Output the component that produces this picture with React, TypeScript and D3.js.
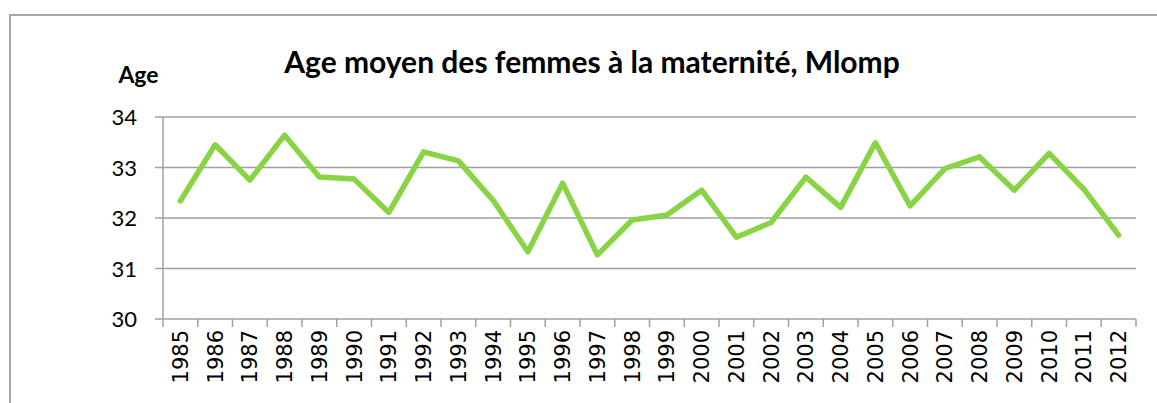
import React from "react";
import * as d3 from "d3";

const years = [
  "1985","1986","1987","1988","1989","1990","1991","1992","1993","1994",
  "1995","1996","1997","1998","1999","2000","2001","2002","2003","2004",
  "2005","2006","2007","2008","2009","2010","2011","2012",
];
const ages = [
  32.34, 33.45, 32.75, 33.64, 32.81, 32.77, 32.11, 33.31, 33.13, 32.35,
  31.33, 32.69, 31.27, 31.96, 32.06, 32.55, 31.62, 31.91, 32.81, 32.21,
  33.49, 32.24, 32.98, 33.21, 32.55, 33.28, 32.57, 31.66,
];
const yTicks = [30, 31, 32, 33, 34];
const title = "Age moyen des femmes à la maternité, Mlomp";
const yLabel = "Age";

const W = 1157;
const H = 403;
const left = 163;
const right = 1136;
const top = 117;
const bottom = 319;

export default function App() {
  const x = d3.scaleBand<string>().domain(years).range([left, right]).padding(0);
  const y = d3.scaleLinear().domain([30, 34]).range([bottom, top]);
  const line = d3
    .line<number>()
    .x((_, i) => (x(years[i]) as number) + x.bandwidth() / 2)
    .y((d) => y(d));
  const boundaries = years.map((yr) => x(yr) as number).concat([right]);
  const grid = "#a0a0a0";
  return (
    <svg
      width={W}
      height={H}
      style={{ position: "absolute", left: 0, top: 0, background: "#fff" }}
    >
      <rect x={10} y={15} width={W + 20} height={H + 20} fill="#fff" stroke="#a6a6a6" strokeWidth={2} />
      <text x={592} y={73} textAnchor="middle" fontFamily="Lato" fontWeight="bold" fontSize={30}>
        {title}
      </text>
      <text x={138.5} y={83} textAnchor="middle" fontFamily="Lato" fontWeight="bold" fontSize={23}>
        {yLabel}
      </text>
      {yTicks.map((t) => (
        <g key={t}>
          <line x1={155} x2={right} y1={y(t)} y2={y(t)} stroke={grid} strokeWidth={1.5} />
          <text x={137} y={y(t) + 8} textAnchor="end" fontFamily="Lato" fontSize={22} fill="#000">
            {t}
          </text>
        </g>
      ))}
      <line x1={left} x2={left} y1={top} y2={bottom} stroke={grid} strokeWidth={1.5} />
      {boundaries.map((bx, i) => (
        <line key={i} x1={bx} x2={bx} y1={bottom} y2={bottom + 8} stroke={grid} strokeWidth={1.5} />
      ))}
      {years.map((yr) => {
        const cx = (x(yr) as number) + x.bandwidth() / 2;
        return (
          <text
            key={yr}
            transform={`translate(${cx + 7.5},${330}) rotate(-90)`}
            textAnchor="end"
            fontFamily="DejaVu Sans"
            fontSize={21}
            fill="#000"
          >
            {yr}
          </text>
        );
      })}
      <path d={line(ages) as string} fill="none" stroke="#88d445" strokeWidth={5.5} strokeLinejoin="round" strokeLinecap="round" />
    </svg>
  );
}
